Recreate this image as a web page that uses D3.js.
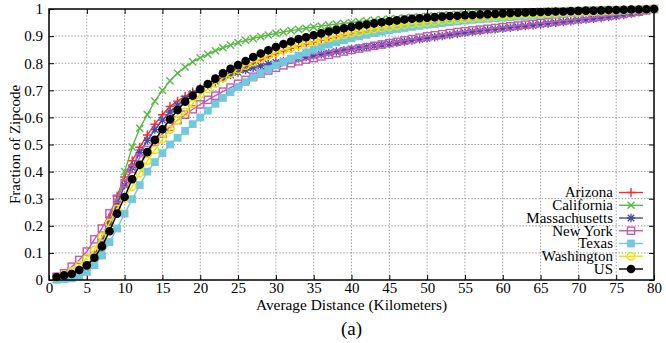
<!DOCTYPE html>
<html><head><meta charset="utf-8">
<script src="https://cdn.jsdelivr.net/npm/d3@7"></script>
<style>
html,body{margin:0;padding:0;background:#fff;}
svg{display:block;}
svg text{font-family:"Liberation Serif","Times New Roman",Tinos,Times,"DejaVu Serif",serif !important;}
</style></head>
<body><svg id="chart" width="666" height="343"></svg>
<script>
// ---------- data ----------
const distances = d3.range(1, 81); // km, one point per km
const xTicks = [0,5,10,15,20,25,30,35,40,45,50,55,60,65,70,75,80];
const yTicks = [0,0.1,0.2,0.3,0.4,0.5,0.6,0.7,0.8,0.9,1];
const yTickLabels = ["0","0.1","0.2","0.3","0.4","0.5","0.6","0.7","0.8","0.9","1"];
const seriesNames = ["Arizona","California","Massachusetts","New York","Texas","Washington","US"];

const arizona = [.005,.01,.018,.03,.05,.09,.15,.23,.31,.38,
 .44,.49,.535,.575,.61,.64,.66,.678,.694,.708,
 .718,.73,.745,.76,.774,.788,.801,.813,.825,.836,
 .846,.855,.863,.871,.878,.885,.892,.898,.904,.91,
 .915,.92,.925,.929,.933,.937,.941,.944,.947,.95,
 .953,.956,.959,.961,.963,.965,.967,.969,.971,.973,
 .975,.977,.979,.98,.982,.983,.985,.986,.987,.988,
 .99,.991,.992,.993,.995,.996,.997,.998,.999,1];
const california = [.002,.004,.008,.015,.03,.06,.11,.19,.29,.40,
 .49,.56,.61,.66,.70,.735,.763,.786,.805,.82,
 .833,.846,.857,.867,.876,.884,.891,.898,.904,.91,
 .915,.92,.925,.929,.933,.937,.941,.944,.947,.95,
 .953,.956,.959,.961,.963,.965,.967,.969,.971,.973,
 .975,.977,.978,.98,.981,.982,.983,.984,.985,.986,
 .987,.988,.989,.990,.991,.992,.992,.993,.994,.994,
 .995,.996,.996,.997,.997,.998,.998,.999,.999,1];
const massachusetts = [.004,.008,.015,.028,.048,.085,.14,.21,.28,.35,
 .415,.47,.515,.555,.59,.62,.645,.668,.688,.705,
 .72,.733,.745,.756,.766,.775,.783,.79,.797,.803,
 .808,.813,.818,.823,.828,.833,.838,.843,.848,.852,
 .856,.86,.864,.868,.872,.876,.88,.884,.888,.892,
 .896,.9,.904,.908,.912,.916,.919,.922,.925,.928,
 .931,.934,.937,.94,.943,.946,.949,.952,.955,.958,
 .961,.964,.967,.97,.974,.978,.983,.988,.994,1];
const newYork = [.012,.025,.049,.074,.105,.15,.19,.246,.30,.357,
 .41,.45,.48,.51,.54,.565,.59,.61,.63,.648,
 .665,.68,.695,.71,.724,.738,.75,.762,.773,.783,
 .792,.80,.807,.813,.819,.825,.831,.837,.843,.849,
 .854,.859,.864,.869,.874,.879,.884,.889,.894,.899,
 .903,.907,.911,.915,.918,.921,.924,.927,.93,.933,
 .936,.939,.942,.945,.948,.951,.954,.957,.96,.963,
 .966,.969,.972,.975,.978,.982,.986,.99,.995,1];
const texas = [.001,.003,.006,.015,.03,.055,.09,.14,.19,.245,
 .298,.35,.40,.435,.468,.50,.525,.55,.575,.60,
 .625,.65,.672,.693,.712,.73,.747,.763,.778,.792,
 .805,.817,.828,.84,.85,.86,.869,.877,.885,.892,
 .899,.905,.911,.916,.921,.926,.93,.934,.938,.942,
 .945,.948,.951,.954,.957,.96,.962,.964,.966,.968,
 .970,.972,.974,.976,.978,.98,.982,.983,.985,.986,
 .988,.989,.99,.992,.993,.995,.996,.997,.999,1];
const washington = [.01,.02,.032,.055,.08,.111,.16,.21,.262,.30,
 .345,.395,.44,.48,.52,.555,.59,.62,.65,.685,
 .705,.725,.745,.762,.777,.791,.804,.816,.828,.838,
 .848,.857,.865,.872,.879,.886,.893,.899,.905,.911,
 .916,.921,.926,.93,.934,.938,.942,.945,.948,.951,
 .954,.957,.96,.962,.964,.966,.968,.97,.972,.974,
 .976,.978,.98,.981,.982,.984,.985,.986,.987,.988,
 .99,.991,.992,.993,.995,.996,.997,.998,.999,1];
const us = [.011,.017,.022,.037,.054,.082,.124,.18,.245,.306,
 .372,.425,.472,.517,.556,.593,.627,.658,.68,.704,
 .723,.743,.763,.779,.793,.808,.823,.836,.848,.86,
 .871,.88,.889,.896,.903,.91,.917,.923,.929,.934,
 .939,.943,.947,.951,.955,.958,.961,.964,.966,.968,
 .970,.972,.974,.975,.977,.978,.980,.981,.982,.984,
 .985,.986,.987,.988,.989,.990,.991,.991,.992,.993,
 .994,.994,.995,.996,.996,.997,.998,.998,.999,1];

// ---------- layout / style ----------
const margin = {left:49, right:12, top:9, bottom:63};
const W = 666, H = 343;
const iw = W - margin.left - margin.right, ih = H - margin.top - margin.bottom;
const FONT = "'Liberation Serif','Times New Roman',Tinos,Times,serif";

const styles = [
  {name:"Arizona", values:arizona, color:"#ee3030", marker:"plus"},
  {name:"California", values:california, color:"#5ab846", marker:"cross"},
  {name:"Massachusetts", values:massachusetts, color:"#4848a6", marker:"star"},
  {name:"New York", values:newYork, color:"#c05ab4", marker:"osquare"},
  {name:"Texas", values:texas, color:"#72c8de", marker:"fsquare"},
  {name:"Washington", values:washington, color:"#f0e200", marker:"ocircle"},
  {name:"US", values:us, color:"#000000", marker:"fcircle"}
];

const svg = d3.select("#chart");
const g = svg.append("g").attr("transform",`translate(${margin.left},${margin.top})`);
const x = d3.scaleLinear().domain([0,80]).range([0,iw]);
const y = d3.scaleLinear().domain([0,1]).range([ih,0]);

// grid
g.append("g").selectAll("line").data(xTicks.slice(1,-1)).join("line")
  .attr("x1",d=>x(d)).attr("x2",d=>x(d)).attr("y1",0).attr("y2",ih)
  .attr("stroke","#8a8a8a").attr("stroke-width",1).attr("stroke-dasharray","1.2,2");
g.append("g").selectAll("line").data(yTicks.slice(1,-1)).join("line")
  .attr("y1",d=>y(d)).attr("y2",d=>y(d)).attr("x1",0).attr("x2",iw)
  .attr("stroke","#8a8a8a").attr("stroke-width",1).attr("stroke-dasharray","1.2,2");

// axes with inward ticks
const fs = 15;
const xAxis = g.append("g").attr("transform",`translate(0,${ih})`)
  .call(d3.axisBottom(x).tickValues(xTicks).tickSize(-5).tickPadding(2).tickFormat(d3.format("d")));
const xTop = g.append("g").call(d3.axisTop(x).tickValues(xTicks).tickSize(-5).tickFormat(""));
const yAxis = g.append("g")
  .call(d3.axisLeft(y).tickValues(yTicks).tickSize(-5).tickPadding(6).tickFormat((d,i)=>yTickLabels[i]));
const yRight = g.append("g").attr("transform",`translate(${iw},0)`)
  .call(d3.axisRight(y).tickValues(yTicks).tickSize(-5).tickFormat(""));
[xAxis,xTop,yAxis,yRight].forEach(a=>{
  a.attr("font-family",FONT).attr("font-size",fs);
  a.select(".domain").remove();
  a.selectAll("line").attr("stroke","#000").attr("stroke-width",1);
  a.selectAll("text").attr("fill","#000");
});

// series
const line = d3.line().x((d,i)=>x(distances[i])).y(d=>y(d));
function drawMarker(sel, type, color){
  if(type==="plus"){
    sel.append("path").attr("d","M-4.5,0H4.5M0,-4.5V4.5").attr("stroke",color).attr("stroke-width",1.4).attr("fill","none");
  } else if(type==="cross"){
    sel.append("path").attr("d","M-3.6,-3.6L3.6,3.6M-3.6,3.6L3.6,-3.6").attr("stroke",color).attr("stroke-width",1.4).attr("fill","none");
  } else if(type==="star"){
    sel.append("path").attr("d","M-4.2,0H4.2M0,-4.2V4.2M-3.2,-3.2L3.2,3.2M-3.2,3.2L3.2,-3.2").attr("stroke",color).attr("stroke-width",1.3).attr("fill","none");
  } else if(type==="osquare"){
    sel.append("rect").attr("x",-3.6).attr("y",-3.6).attr("width",7.2).attr("height",7.2).attr("stroke",color).attr("stroke-width",1.4).attr("fill","none");
  } else if(type==="fsquare"){
    sel.append("rect").attr("x",-3.9).attr("y",-3.9).attr("width",7.8).attr("height",7.8).attr("fill",color);
  } else if(type==="ocircle"){
    sel.append("circle").attr("r",3.7).attr("stroke",color).attr("stroke-width",1.5).attr("fill","none");
  } else if(type==="fcircle"){
    sel.append("circle").attr("r",4.3).attr("fill",color);
  }
}
styles.forEach(s=>{
  const sg = g.append("g").attr("class","series");
  sg.append("path").datum(s.values).attr("d",line).attr("fill","none")
    .attr("stroke",s.color).attr("stroke-width",1.4);
  sg.selectAll("g.m").data(s.values).join("g").attr("class","m")
    .attr("transform",(d,i)=>`translate(${x(distances[i])},${y(d)})`)
    .each(function(){ drawMarker(d3.select(this), s.marker, s.color); });
});

// border
g.append("rect").attr("x",0).attr("y",0).attr("width",iw).attr("height",ih)
  .attr("fill","none").attr("stroke","#000").attr("stroke-width",1.5);

// legend
const lg = g.append("g").attr("font-family",FONT);
const legX = 564, legY0 = 183.5, legDy = 12.75;
styles.forEach((s,i)=>{
  const yy = legY0 + i*legDy;
  lg.append("text").attr("x",legX).attr("y",yy).attr("dy","0.32em").attr("text-anchor","end")
    .attr("font-size",15).attr("fill","#000").text(s.name);
  lg.append("line").attr("x1",legX+6).attr("x2",legX+30).attr("y1",yy).attr("y2",yy)
    .attr("stroke",s.color).attr("stroke-width",1.4);
  const mg = lg.append("g").attr("transform",`translate(${legX+18},${yy})`);
  drawMarker(mg, s.marker, s.color);
});

// titles
svg.append("text").attr("x",margin.left+iw/2).attr("y",309.5).attr("text-anchor","middle")
  .attr("font-family",FONT).attr("font-size",15.4).text("Average Distance (Kilometers)");
svg.append("text").attr("transform",`translate(19.5,${margin.top+ih/2}) rotate(-90)`)
  .attr("text-anchor","middle").attr("font-family",FONT).attr("font-size",15).text("Fraction of Zipcode");
svg.append("text").attr("x",margin.left+iw/2).attr("y",335).attr("text-anchor","middle")
  .attr("font-family",FONT).attr("font-size",19).text("(a)");
</script></body></html>
